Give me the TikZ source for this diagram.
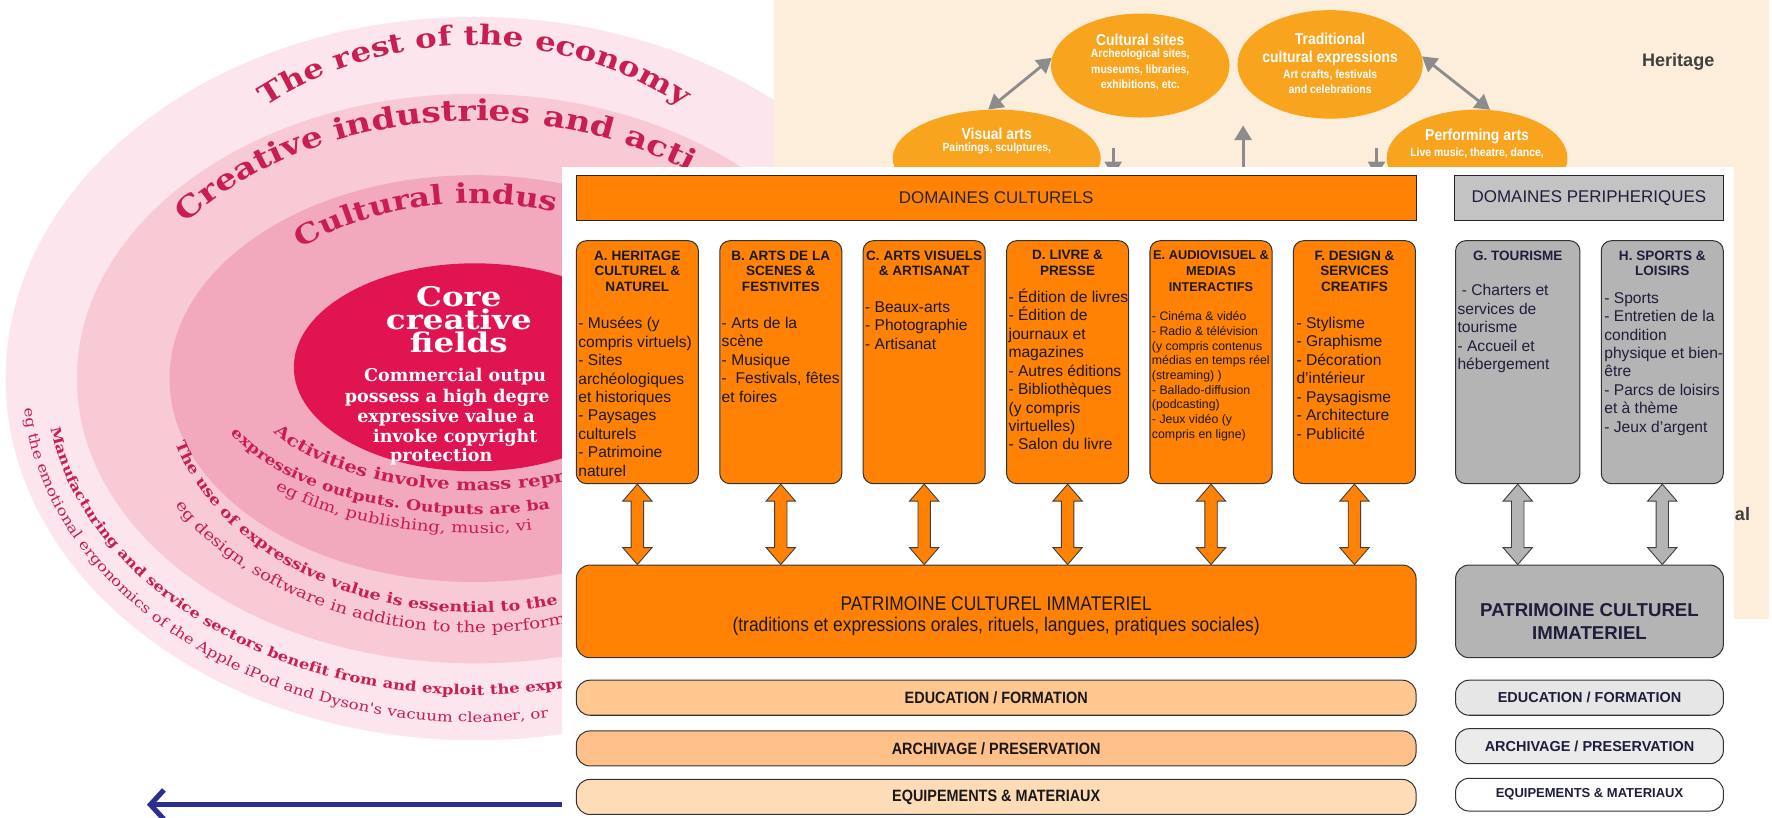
\documentclass[tikz,border=0pt]{standalone}
\usepackage{fontspec}
\setmainfont{Liberation Sans}
\newfontfamily\pinkfont{DejaVu Serif}
\newfontfamily\pinkwide[FakeStretch=1.2]{DejaVu Serif}
\newfontfamily\narrowfont[FakeStretch=0.88]{Liberation Sans}
\usetikzlibrary{positioning,calc,shapes.geometric,arrows.meta,decorations.text}

\definecolor{dorange}{HTML}{FF8205}
\definecolor{edu}{HTML}{FFC891}
\definecolor{arch}{HTML}{FFC08A}
\definecolor{equip}{HTML}{FFDCB8}
\definecolor{pgray}{HTML}{B4B4B4}
\definecolor{hgray}{HTML}{C3C3C3}
\definecolor{edug}{HTML}{E6E6E6}
\definecolor{archg}{HTML}{EBEBEB}
\definecolor{beige}{HTML}{FDEEDC}
\definecolor{ellor}{HTML}{F9A41F}
\definecolor{arrgray}{HTML}{8C8C8C}
\definecolor{crim}{HTML}{C81E50}
\definecolor{corered}{HTML}{DF1450}
\definecolor{pinkA}{HTML}{FCE5EC}
\definecolor{pinkB}{HTML}{F8CAD6}
\definecolor{pinkC}{HTML}{F2A9BD}
\definecolor{navy}{HTML}{1E1E3C}
\definecolor{bluearr}{HTML}{2B2E8C}

\newcommand{\setfs}[2]{\fontsize{#1}{#2}\selectfont}
\newcommand{\arcb}[1]{\pinkwide\bfseries\setfs{#1}{#1}\color{crim}}
\newcommand{\arcr}[1]{\pinkwide\setfs{#1}{#1}\color{crim}}

\newcommand{\bidir}[3]{%
  \path (#1.south) coordinate (bt) (#1.south |- #2.north) coordinate (bb);
  \draw[blockarrow, fill=#3] (bt) -- ++(-13,-15) -- ++(7.5,0) -- ($(bb)+(-5.5,15)$) -- ++(-7.5,0)
    -- (bb) -- ++(13,15) -- ++(-7.5,0) -- ($(bt)+(5.5,-15)$) -- ++(7.5,0) -- cycle;}

\tikzset{
  ringtext/.style={decorate, decoration={text along path, text align=#1}},
  coretitle/.style={font=\pinkwide\bfseries\setfs{24}{20.5}, text=white, align=center, inner sep=0},
  coresub/.style={font=\pinkfont\bfseries\setfs{15.5}{17}, text=white, anchor=west, inner sep=0},
  ell/.style={ellipse, fill=ellor, inner sep=0},
  elltitle/.style={font=\narrowfont\bfseries\setfs{14}{16.5}, text=white, align=center, inner sep=0},
  ellsub/.style={font=\narrowfont\bfseries\setfs{10.5}{13.5}, text=white, align=center, inner sep=0},
  harr/.style={draw=arrgray, line width=2.5pt, >={Triangle[length=13pt,width=15pt]}, <->},
  hdarr/.style={draw=arrgray, line width=2.5pt, >={Triangle[length=13pt,width=15pt]}, ->},
  herit/.style={font=\bfseries\setfs{16}{18}, text=black!75, inner sep=0},
  hbar/.style={draw=black!85, line width=0.9pt, minimum height=40pt, inner sep=0, font=\setfs{15}{17}, text=black!85},
  cbox/.style={draw=black!80, line width=0.9pt, fill=dorange, rounded corners=9pt, minimum width=108pt, minimum height=215pt, inner sep=0},
  gbox/.style={cbox, fill=pgray},
  hdr/.style={font=\bfseries\setfs{12}{14}, align=center, inner sep=0, text=black!90},
  lst/.style={font=\setfs{13.8}{16.3}, align=left, inner sep=0, anchor=north west, text=black!90},
  pbox/.style={draw=black!80, line width=0.9pt, fill=dorange, rounded corners=12pt, minimum height=82pt, inner sep=0, align=center},
  bar/.style={draw=black!80, line width=0.9pt, rounded corners=12pt, minimum height=31pt, minimum width=743pt, inner sep=0, font=\narrowfont\bfseries\setfs{14.5}{16}, text=black!90},
  gbar/.style={bar, minimum width=237pt, font=\bfseries\setfs{12.8}{14}, text=navy},
  blockarrow/.style={draw=black!75, line width=0.8pt, line join=miter},
  bluearrow/.style={draw=bluearr, line width=4.5pt, >={Straight Barb[length=12pt,width=26pt]}, ->}
}

\begin{document}
\begin{tikzpicture}[x=1pt, y=1pt]
  \useasboundingbox (0,0) rectangle (1568,723);
  \fill[white] (0,0) rectangle (1568,723);

  % creative economy rings
  \begin{scope}[shift={(420,388)}]
    \fill[pinkA] (0,0) ellipse[x radius=415, y radius=320];
    \fill[pinkB] (0,0) ellipse[x radius=352, y radius=252];
    \fill[pinkC] (0,0) ellipse[x radius=270, y radius=180];
    \fill[corered] (0,10) ellipse[x radius=160, y radius=92];

    \path[ringtext=center, decoration={text={|\arcb{24}|The rest of the economy}}]
      (165:320 and 295) arc[start angle=165, end angle=15, x radius=320, y radius=295];
    \path[ringtext=left, decoration={text={|\arcb{25.5}|Creative industries and acti}}]
      (143:320 and 228) arc[start angle=143, end angle=30, x radius=320, y radius=228];
    \path[ringtext=left, decoration={text={|\arcb{24}|Cultural indus}}]
      (132:230 and 155) arc[start angle=132, end angle=40, x radius=230, y radius=155];

    \path[ringtext=left, decoration={text={|\arcb{14.5}|Activities involve mass repr}}]
      (209:203 and 99) arc[start angle=209, end angle=320, x radius=203, y radius=99];
    \path[ringtext=left, decoration={text={|\arcb{12.8}|expressive outputs. Outputs are ba}}]
      (204:236 and 120) arc[start angle=204, end angle=320, x radius=236, y radius=120];
    \path[ringtext=left, decoration={text={|\arcr{13.3}|eg film, publishing, music, vi}}]
      (226:254 and 137) arc[start angle=226, end angle=320, x radius=254, y radius=137];
    \path[ringtext=left, decoration={text={|\arcb{12.9}|The use of expressive value is essential to the}}]
      (196:275 and 207) arc[start angle=196, end angle=320, x radius=275, y radius=207];
    \path[ringtext=left, decoration={text={|\arcr{13.5}|eg design, software in addition to the perform}}]
      (210:306 and 225) arc[start angle=210, end angle=320, x radius=306, y radius=225];
    \path[ringtext=left, decoration={text={|\arcb{12.1}|Manufacturing and service sectors benefit from and exploit the expr}}]
      (189:380 and 280) arc[start angle=189, end angle=320, x radius=380, y radius=280];
    \path[ringtext=left, decoration={text={|\arcr{12.3}|eg the emotional ergonomics of the Apple iPod and Dyson's vacuum cleaner, or}}]
      (185:400 and 304) arc[start angle=185, end angle=320, x radius=400, y radius=304];
  \end{scope}

  \node[coretitle] (coret) at (406,440) {Core\\creative\\fields};
  \foreach \x/\y/\t [count=\i] in {322/390/Commercial outpu, 305/371/possess a high degre,
      316/353/expressive value a, 330/336/invoke copyright, 345/319/protection}
    \node[coresub] (corel\i) at (\x,\y) {\t};

  % heritage model
  \fill[beige] (685,175) rectangle (1565,723);
  \node[ell, minimum width=158pt, minimum height=92pt] (cult) at (1009,665) {};
  \node[ell, minimum width=164pt, minimum height=96pt] (trad) at (1177,666) {};
  \node[ell, minimum width=184pt, minimum height=86pt] (vis)  at (882,583) {};
  \node[ell, minimum width=160pt, minimum height=86pt] (perf) at (1307,583) {};

  \node[elltitle, below=18pt of cult.north] (cultt) {Cultural sites};
  \node[ellsub, below=3pt of cultt] (cults) {Archeological sites,\\museums, libraries,\\exhibitions, etc.};
  \node[elltitle, below=20pt of trad.north] (tradt) {Traditional\\cultural expressions};
  \node[ellsub, below=3pt of tradt] (trads) {Art crafts, festivals\\and celebrations};
  \node[elltitle, below=16pt of vis.north] (vist) {Visual arts};
  \node[ellsub, below=3pt of vist] (viss) {Paintings, sculptures,};
  \node[elltitle, below=17pt of perf.north] (perft) {Performing arts};
  \node[ellsub, below=3pt of perft] (perfs) {Live music, theatre, dance,};

  \draw[harr] (vis.100) -- (cult.175);
  \draw[harr] (trad.5) -- (perf.75);
  \coordinate (hub) at (1100,560);
  \coordinate (gap) at (1100,612);
  \draw[hdarr] (hub) -- (gap);
  \coordinate (vda) at (985,592);
  \coordinate (vdb) at (985,567);
  \draw[hdarr] (vda) -- (vdb);
  \coordinate (pda) at (1218,592);
  \coordinate (pdb) at (1218,567);
  \draw[hdarr] (pda) -- (pdb);

  \node[herit] (herit) at (1485,668) {Heritage};
  \node[herit, anchor=west] (heral) at (1535,268) {al};

  % cultural domains panel
  \fill[white] (497,0) rectangle (1534,575);

  \node[hbar, fill=dorange, minimum width=743pt] (dc) at (881.5,548) {DOMAINES CULTURELS};
  \node[hbar, fill=hgray, minimum width=238pt, text=navy] (dp) at (1406,548) {DOMAINES PERIPHERIQUES};

  \node[cbox] (A) at (564,402.5) {};
  \node[cbox, right=18pt of A] (B) {};
  \node[cbox, right=18pt of B] (C) {};
  \node[cbox, right=18pt of C] (D) {};
  \node[cbox, right=18pt of D] (E) {};
  \node[cbox, right=18pt of E] (F) {};
  \node[gbox, minimum width=110pt] (G) at (1343,402.5) {};
  \node[gbox, right=18pt of G] (H) {};

  \node[hdr, below=9pt of A.north] (Ahd) {A. HERITAGE\\CULTUREL \&\\NATUREL};
  \node[hdr, below=9pt of B.north] (Bhd) {B. ARTS DE LA\\SCENES \&\\FESTIVITES};
  \node[hdr, below=9pt of C.north] (Chd) {C. ARTS VISUELS\\\& ARTISANAT};
  \node[hdr, below=9pt of D.north] (Dhd) {D. LIVRE \&\\PRESSE};
  \node[hdr, below=9pt of E.north, font=\bfseries\setfs{11.3}{14}] (Ehd) {E. AUDIOVISUEL \&\\MEDIAS\\INTERACTIFS};
  \node[hdr, below=9pt of F.north] (Fhd) {F. DESIGN \&\\SERVICES\\CREATIFS};
  \node[hdr, below=9pt of G.north, text=navy] (Ghd) {G. TOURISME};
  \node[hdr, below=9pt of H.north, text=navy] (Hhd) {H. SPORTS \&\\LOISIRS};

  \node[lst] (Alst) at ($(A.north west)+(2,-68)$) {- Musées (y\\compris virtuels)\\- Sites\\archéologiques\\et historiques\\- Paysages\\culturels\\- Patrimoine\\naturel};
  \node[lst] (Blst) at ($(B.north west)+(2,-68)$) {- Arts de la\\scène\\- Musique\\- \ Festivals, fêtes\\et foires};
  \node[lst] (Clst) at ($(C.north west)+(2,-54)$) {- Beaux-arts\\- Photographie\\- Artisanat};
  \node[lst] (Dlst) at ($(D.north west)+(2,-43)$) {- Édition de livres\\- Édition de\\journaux et\\magazines\\- Autres éditions\\- Bibliothèques\\(y compris\\virtuelles)\\- Salon du livre};
  \node[lst, font=\setfs{10.9}{13}] (Elst) at ($(E.north west)+(2,-63)$) {- Cinéma \& vidéo\\- Radio \& télévision\\(y compris contenus\\médias en temps réel\\(streaming) )\\- Ballado-diffusion\\(podcasting)\\- Jeux vidéo (y\\compris en ligne)};
  \node[lst] (Flst) at ($(F.north west)+(3,-68)$) {- Stylisme\\- Graphisme\\- Décoration\\d'intérieur\\- Paysagisme\\- Architecture\\- Publicité};
  \node[lst, text=navy] (Glst) at ($(G.north west)+(2,-39)$) {\ - Charters et\\services de\\tourisme\\- Accueil et\\hébergement};
  \node[lst, text=navy] (Hlst) at ($(H.north west)+(3,-46)$) {- Sports\\- Entretien de la\\condition\\physique et bien-\\être\\- Parcs de loisirs\\et à thème\\- Jeux d'argent};

  \node[pbox, minimum width=743pt] (pci) at (881.5,182) {};
  \node[font=\narrowfont\setfs{17.5}{19}, text=black!90, align=center, inner sep=0] (pcit) at ($(pci)+(0,-4)$)
    {PATRIMOINE CULTUREL IMMATERIEL\\(traditions et expressions orales, rituels, langues, pratiques sociales)};
  \node[pbox, fill=pgray, minimum width=237pt] (pcig) at (1406.5,182) {};
  \node[font=\bfseries\setfs{16.5}{20}, text=navy, align=center, inner sep=0] (pcigt) at ($(pcig)+(0,-9)$) {PATRIMOINE CULTUREL\\IMMATERIEL};

  \foreach \b in {A,...,F} {\bidir{\b}{pci}{dorange}}
  \bidir{G}{pcig}{pgray}
  \bidir{H}{pcig}{pgray}

  \node[bar, fill=edu, below=19pt of pci] (edu) {EDUCATION / FORMATION};
  \node[bar, fill=arch, below=13pt of edu] (arch) {ARCHIVAGE / PRESERVATION};
  \node[bar, fill=equip, below=11pt of arch] (equip) {EQUIPEMENTS \& MATERIAUX};
  \node[gbar, fill=edug, below=19pt of pcig] (edug) {EDUCATION / FORMATION};
  \node[gbar, fill=archg, below=11pt of edug] (archg) {ARCHIVAGE / PRESERVATION};
  \node[gbar, fill=white, minimum height=29pt, font=\bfseries\setfs{11.5}{13}, below=12pt of archg] (equipg) {EQUIPEMENTS \& MATERIAUX};

  \coordinate (arrs) at (497,11);
  \coordinate (arre) at (130,11);
  \draw[bluearrow] (arrs) -- (arre);
\end{tikzpicture}
\end{document}
